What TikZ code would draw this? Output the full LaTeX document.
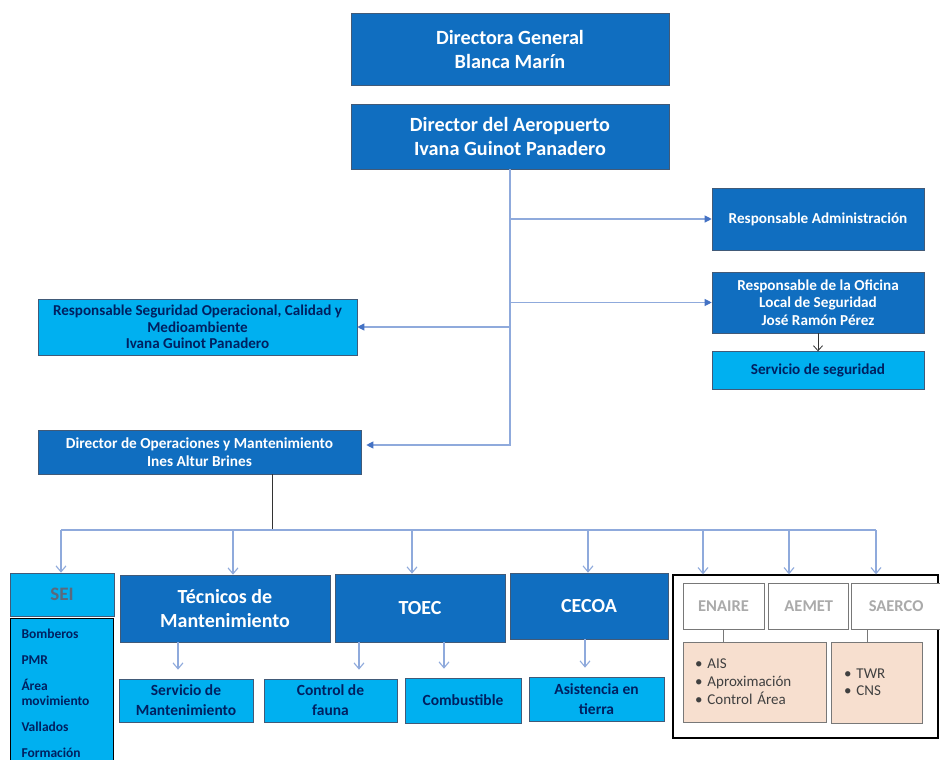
\documentclass[tikz,border=0pt]{standalone}
\usepackage{fontspec}
\setmainfont{Carlito}
\usetikzlibrary{arrows.meta,positioning}

\definecolor{darkbox}{RGB}{16,110,192}
\definecolor{lightbox}{RGB}{0,176,240}
\definecolor{navytext}{RGB}{0,32,96}
\definecolor{boxline}{RGB}{65,90,120}
\definecolor{linecol}{RGB}{143,170,220}
\definecolor{tipcol}{RGB}{68,114,196}
\definecolor{seitext}{RGB}{90,105,125}
\definecolor{agencyline}{RGB}{120,120,120}
\definecolor{agencytext}{RGB}{170,170,170}
\definecolor{peachfill}{RGB}{247,223,207}
\definecolor{bullettext}{RGB}{64,64,64}

\newcommand{\fsz}[2]{\fontsize{#1}{#2}\selectfont}

\begin{document}
\begin{tikzpicture}[x=1pt, y=-1pt,
    box/.style={draw=boxline, line width=0.6pt, align=center, inner sep=1pt},
    dark/.style={box, fill=darkbox, text=white},
    light/.style={box, fill=lightbox, text=navytext},
    big/.style={font=\bfseries\fsz{20.2}{24}},
    mid/.style={font=\bfseries\fsz{15.2}{17.5}},
    unit/.style={font=\bfseries\fsz{20}{24}},
    sub/.style={font=\bfseries\fsz{15.5}{20}},
    agency/.style={draw=agencyline, line width=0.8pt, fill=white, text=agencytext,
        minimum height=46pt, inner sep=0pt, font=\bfseries\fsz{16.5}{20}},
    peach/.style={draw=agencyline, line width=0.8pt, fill=peachfill, text=bullettext,
        align=left, inner ysep=0pt, font=\fsz{15}{18}},
    feed/.style={draw=linecol, line width=1.1pt, -{Triangle[length=7pt, width=7pt, color=tipcol]}},
    drop/.style={draw=linecol, line width=1.1pt, -{Straight Barb[length=6pt, width=10pt]}},
    subdrop/.style={drop, shorten >=9pt}
  ]
    \clip (0,0) rectangle (940,760);

    % top of the chart
    \node [dark, big, minimum width=318pt, minimum height=72pt] (dg) at (510,49) {Directora General\\Blanca Marín};
    \node [dark, big, minimum width=318pt, minimum height=65pt] (da) at (510,136.5) {Director del Aeropuerto\\Ivana Guinot Panadero};

    % right branch
    \node [dark, mid, minimum width=212pt, minimum height=62pt] (radm) at (818,219) {Responsable Administración};
    \node [dark, mid, minimum width=212pt, minimum height=61pt] (rols) at (818,302.5) {Responsable de la Oficina\\Local de Seguridad\\José Ramón Pérez};
    \node [light, mid, minimum width=212pt, minimum height=38pt, below=18pt of rols] (sseg) {Servicio de seguridad};

    % left branch
    \node [light, mid, minimum width=319pt, minimum height=56pt, font=\bfseries\fsz{15.1}{16.5}] (rsoc) at (197.5,327) {Responsable Seguridad Operacional, Calidad y\\Medioambiente\\Ivana Guinot Panadero};
    \node [dark, mid, minimum width=323pt, minimum height=44pt, font=\bfseries\fsz{15.3}{18.5}] (dom) at (199.5,452) {Director de Operaciones y Mantenimiento\\Ines Altur Brines};

    % units
    \node [light, minimum width=104pt, minimum height=43pt, text=seitext, font=\bfseries\fsz{19}{22}] (sei) at (62,594.5) {SEI};
    \node [light, draw=black, line width=0.8pt, anchor=north, minimum width=103pt, minimum height=149pt,
        align=left, text width=80pt, inner xsep=11.5pt, font=\bfseries\fsz{13.5}{15}] (seilist) at (61.5,618)
        {Bomberos\\[11pt]PMR\\[11pt]Área\\movimiento\\[11pt]Vallados\\[11pt]Formación};
    \node [dark, unit, minimum width=210pt, minimum height=67pt] (tec) at (225,608.5) {Técnicos de\\Mantenimiento};
    \node [dark, unit, minimum width=170pt, minimum height=68pt] (toec) at (420,608) {TOEC};
    \node [dark, unit, minimum width=158pt, minimum height=66pt] (cecoa) at (589,606) {CECOA};

    \node [light, sub, minimum width=134pt, minimum height=43pt] (smant) at (186,700.5) {Servicio de\\Mantenimiento};
    \node [light, sub, minimum width=133pt, minimum height=43pt] (cfau) at (330.5,700.5) {Control de\\fauna};
    \node [light, sub, minimum width=116pt, minimum height=45pt] (comb) at (463,700.5) {Combustible};
    \node [light, sub, minimum width=135pt, minimum height=44pt] (asis) at (596.5,699) {Asistencia en\\tierra};

    % outside agencies
    \node [draw=black, line width=1.3pt, minimum width=265pt, minimum height=163pt] (ext) at (805.5,656.5) {};
    \node [agency, minimum width=81pt] (enaire) at (723.5,606) {ENAIRE};
    \node [agency, minimum width=80pt, right=4pt of enaire] (aemet) {AEMET};
    \node [agency, minimum width=89pt, right=2pt of aemet] (saerco) {SAERCO};
    \node [peach, minimum width=143pt, minimum height=80pt, text width=119pt, inner xsep=12pt] (pinka) at (754.5,682)
        {•\hspace{5pt}AIS\\•\hspace{5pt}Aproximación\\•\hspace{5pt}Control Área};
    \node [peach, minimum width=91pt, minimum height=81pt, text width=65pt, inner xsep=13pt, font=\fsz{15}{17}] (pinkb) at (876.5,682.5)
        {•\hspace{5pt}TWR\\•\hspace{5pt}CNS};

    % connectors
    \draw [feed] (da.south) |- ([yshift=7pt, xshift=5pt]dom.east);
    \draw [feed] (da.south |- radm.west) -- (radm.west);
    \draw [feed] (da.south |- rols.west) -- (rols.west);
    \draw [feed] (da.south |- rsoc.east) -- (rsoc.east);
    \draw [-{Straight Barb[length=5pt, width=9pt]}, draw=black!80, line width=0.8pt] (rols) -- (sseg);

    \coordinate (bus) at (272,530);
    \draw [draw=black!80, line width=1pt] (dom.south -| bus) -- (bus);
    \draw [draw=linecol, line width=1.1pt] ([xshift=-1pt]sei.north |- bus) -- ([xshift=70.5pt]ext.north |- bus);
    \foreach \dx/\n in {-1/sei, 8/tec, -8/toec, -1/cecoa, -102.5/ext, -16.5/ext, 70.5/ext}
        \draw [drop] ([xshift=\dx pt]\n.north |- bus) -- ([xshift=\dx pt]\n.north);

    \draw [subdrop] ([xshift=-8pt]smant.north |- tec.south) -- ([xshift=-8pt]smant.north);
    \draw [subdrop] ([xshift=28.5pt]cfau.north |- toec.south) -- ([xshift=28.5pt]cfau.north);
    \draw [subdrop] ([xshift=-19pt]comb.north |- toec.south) -- ([xshift=-19pt]comb.north);
    \draw [subdrop] ([xshift=-11.5pt]asis.north |- cecoa.south) -- ([xshift=-11.5pt]asis.north);

    \draw [draw=agencyline, line width=1pt] (enaire.south) -- (enaire.south |- pinka.north);
    \draw [draw=agencyline, line width=1pt] ([xshift=-9.5pt]pinkb.north |- saerco.south) -- ([xshift=-9.5pt]pinkb.north);

\end{tikzpicture}
\end{document}
